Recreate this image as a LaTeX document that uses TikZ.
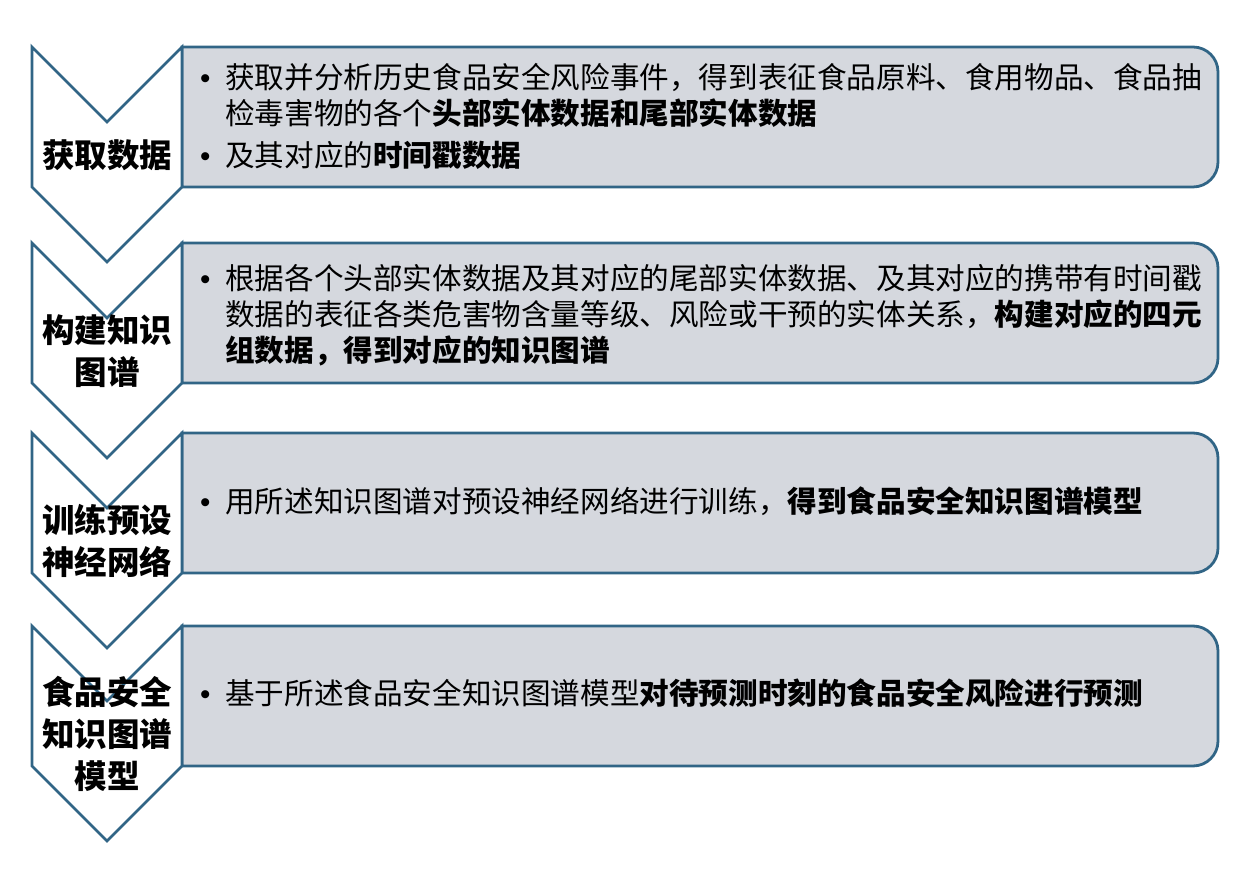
\documentclass[tikz,border=0pt]{standalone}
\usepackage{fontspec}
\setmainfont{Noto Sans CJK SC}
\newfontfamily\bulletfont{Liberation Sans}
\usetikzlibrary{positioning}
\definecolor{step_line}{RGB}{49, 101, 134}
\definecolor{step_fill}{RGB}{213, 216, 222}
\tikzset {
  panel/.style = {draw=step_line, line width=2.8pt, fill=step_fill},
  chevron/.style = {draw=step_line, line width=2.8pt, fill=white},
  steplabel/.style = {font=\fontsize{32.5}{42}\selectfont\bfseries, align=center, inner sep=0},
  bullets/.style = {font=\fontsize{29.6}{36}\selectfont, align=left, anchor=west, inner sep=0}
}
\newcommand{\bul}{\makebox[26pt][l]{\hspace*{1pt}{\bulletfont •}}}
\newcommand{\ind}{\hspace*{26pt}}

\begin{document}
\begin{tikzpicture}[x=1pt, y=1pt]
    \useasboundingbox (0,0) rectangle (1260,870);

    % panels
    \draw[panel] (182,823) -- (1193,823) arc[start angle=90, end angle=0, radius=25pt] -- (1218,708) arc[start angle=0, end angle=-90, radius=25pt] -- (182,683) -- cycle;
    \draw[panel] (182,627) -- (1193,627) arc[start angle=90, end angle=0, radius=25pt] -- (1218,512) arc[start angle=0, end angle=-90, radius=25pt] -- (182,487) -- cycle;
    \draw[panel] (182,437) -- (1193,437) arc[start angle=90, end angle=0, radius=25pt] -- (1218,322) arc[start angle=0, end angle=-90, radius=25pt] -- (182,297) -- cycle;
    \draw[panel] (182,244) -- (1193,244) arc[start angle=90, end angle=0, radius=25pt] -- (1218,129) arc[start angle=0, end angle=-90, radius=25pt] -- (182,104) -- cycle;

    % chevrons
    \draw[chevron] (32,823) -- (107,748) -- (182,823) -- (182,683) -- (107,608) -- (32,683) -- cycle;
    \draw[chevron] (32,627) -- (107,552) -- (182,627) -- (182,487) -- (107,412) -- (32,487) -- cycle;
    \draw[chevron] (32,437) -- (107,362) -- (182,437) -- (182,297) -- (107,222) -- (32,297) -- cycle;
    \draw[chevron] (32,244) -- (107,169) -- (182,244) -- (182,104) -- (107,29) -- (32,104) -- cycle;

    \node[steplabel] (getdata) at (107,715) {获取数据};
    \node[steplabel] (buildkg) at (107,519) {构建知识\\图谱};
    \node[steplabel] (trainnet) at (107,329) {训练预设\\神经网络};
    \node[steplabel] (kgmodel) at (107,136) {食品安全\\知识图谱\\模型};

    \node[bullets] (gettext) at (199,753.5) {\bul 获取并分析历史食品安全风险事件，得到表征食品原料、食用物品、食品抽\\
      \ind 检毒害物的各个\textbf{头部实体数据和尾部实体数据}\\[6pt]
      \bul 及其对应的\textbf{时间戳数据}};
    \node[bullets] (buildtext) at (199,554.5) {\bul 根据各个头部实体数据及其对应的尾部实体数据、及其对应的携带有时间戳\\
      \ind 数据的表征各类危害物含量等级、风险或干预的实体关系，\textbf{构建对应的四元}\\
      \ind \textbf{组数据，得到对应的知识图谱}};
    \node[bullets] (traintext) at (199,369) {\bul 用所述知识图谱对预设神经网络进行训练，\textbf{得到食品安全知识图谱模型}};
    \node[bullets] (modeltext) at (199,177) {\bul 基于所述食品安全知识图谱模型\textbf{对待预测时刻的食品安全风险进行预测}};

\end{tikzpicture}
\end{document}
